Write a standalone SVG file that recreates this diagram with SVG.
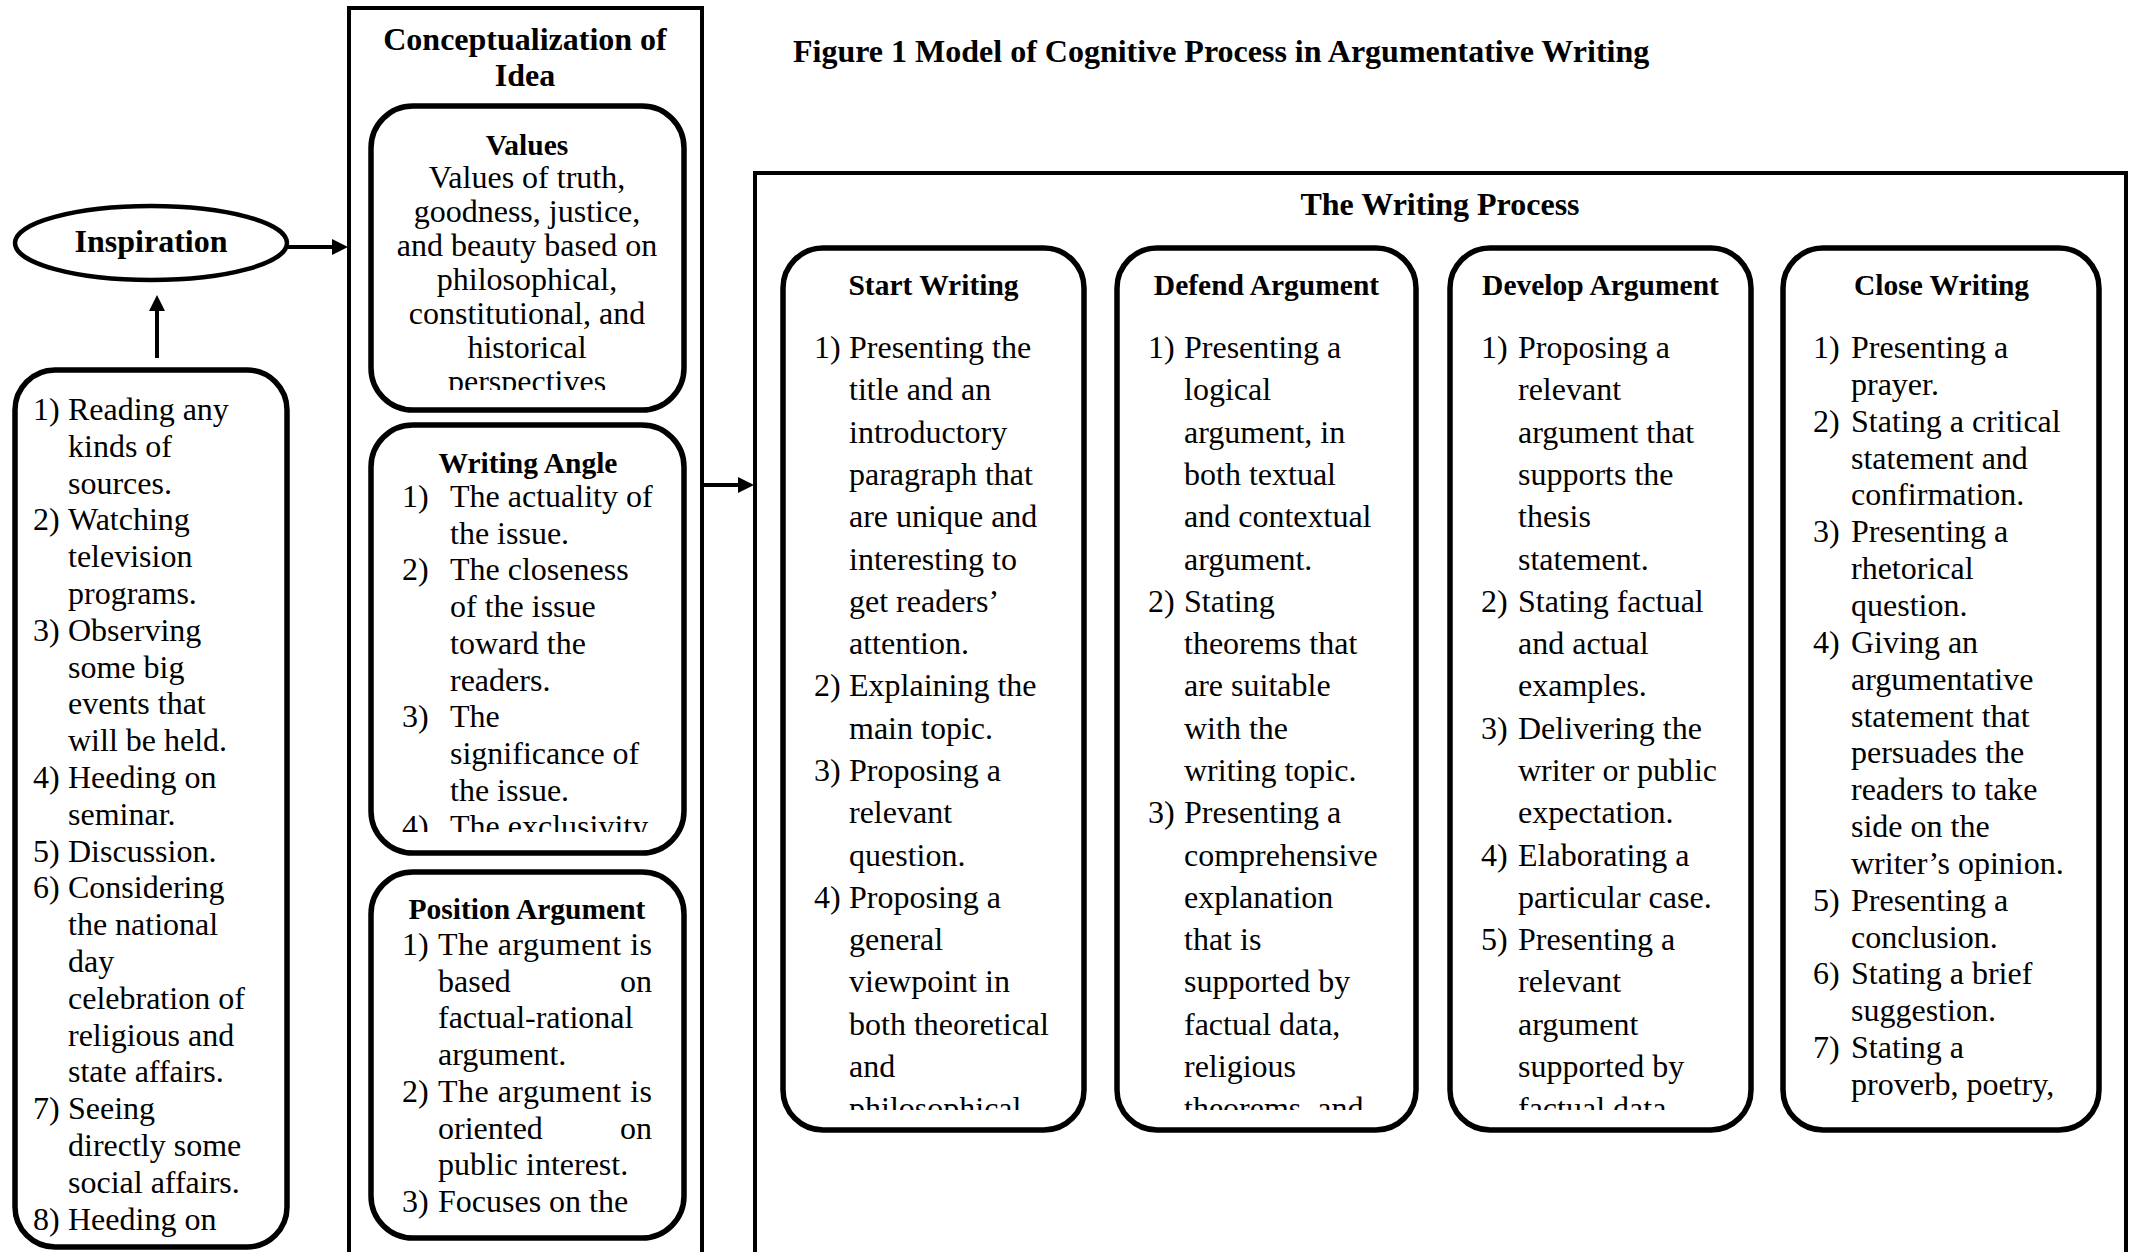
<svg xmlns="http://www.w3.org/2000/svg" width="2133" height="1252" viewBox="0 0 2133 1252">
  <style>
    text { font-family: "Liberation Serif", "Times New Roman", serif; fill: #000; }
    .t { font-size: 32px; }
    .hd { font-size: 29.5px; font-weight: bold; text-anchor: middle; }
    .big { font-size: 32px; font-weight: bold; }
    .mid { text-anchor: middle; }
    .end { text-anchor: end; }
    .box { fill: #fff; stroke: #000; stroke-width: 5.5; }
    .frame { fill: none; stroke: #000; stroke-width: 4; }
    .conn { stroke: #000; stroke-width: 4; fill: none; marker-end: url(#arrow); }
  </style>
  <defs>
    <marker id="arrow" viewBox="0 0 16 16" refX="0" refY="8" markerWidth="16" markerHeight="16" markerUnits="userSpaceOnUse" orient="auto">
      <path d="M0,0 L16,8 L0,16 z" fill="#000"/>
    </marker>
    <clipPath id="clipValues"><rect x="372" y="108" width="310" height="282"/></clipPath>
    <clipPath id="clipAngle"><rect x="372" y="427" width="310" height="405"/></clipPath>
    <clipPath id="clipStart"><rect x="785" y="250" width="297" height="860"/></clipPath>
    <clipPath id="clipDefend"><rect x="1119" y="250" width="295" height="860"/></clipPath>
    <clipPath id="clipDevelop"><rect x="1452" y="250" width="297" height="860"/></clipPath>
  </defs>

  <rect width="2133" height="1252" fill="#fff"/>

  <!-- Title -->
  <text id="title" class="big" x="793" y="62">Figure 1 Model of Cognitive Process in Argumentative Writing</text>

  <!-- Connectors -->
  <g id="connectors">
    <line class="conn" x1="157" y1="358" x2="157" y2="311"/>
    <line class="conn" x1="288" y1="247" x2="332" y2="247"/>
    <line class="conn" x1="702" y1="485" x2="738" y2="485"/>
  </g>

  <!-- Inspiration -->
  <g id="inspiration">
    <ellipse cx="151" cy="243" rx="136" ry="37" fill="#fff" stroke="#000" stroke-width="4.5"/>
    <text class="big mid" x="151" y="252">Inspiration</text>
  </g>

  <!-- Sources of inspiration -->
  <g id="sources">
    <rect class="box" x="15" y="370" width="272" height="877" rx="40" ry="40"/>
    <text class="t" x="33" y="420">1)</text>
    <text class="t" x="33" y="530.4">2)</text>
    <text class="t" x="33" y="640.8">3)</text>
    <text class="t" x="33" y="788">4)</text>
    <text class="t" x="33" y="861.6">5)</text>
    <text class="t" x="33" y="898.4">6)</text>
    <text class="t" x="33" y="1119.2">7)</text>
    <text class="t" x="33" y="1229.6">8)</text>
    <text class="t" x="68" y="420"><tspan x="68">Reading any</tspan><tspan x="68" dy="36.8">kinds of</tspan><tspan x="68" dy="36.8">sources.</tspan><tspan x="68" dy="36.8">Watching</tspan><tspan x="68" dy="36.8">television</tspan><tspan x="68" dy="36.8">programs.</tspan><tspan x="68" dy="36.8">Observing</tspan><tspan x="68" dy="36.8">some big</tspan><tspan x="68" dy="36.8">events that</tspan><tspan x="68" dy="36.8">will be held.</tspan><tspan x="68" dy="36.8">Heeding on</tspan><tspan x="68" dy="36.8">seminar.</tspan><tspan x="68" dy="36.8">Discussion.</tspan><tspan x="68" dy="36.8">Considering</tspan><tspan x="68" dy="36.8">the national</tspan><tspan x="68" dy="36.8">day</tspan><tspan x="68" dy="36.8">celebration of</tspan><tspan x="68" dy="36.8">religious and</tspan><tspan x="68" dy="36.8">state affairs.</tspan><tspan x="68" dy="36.8">Seeing</tspan><tspan x="68" dy="36.8">directly some</tspan><tspan x="68" dy="36.8">social affairs.</tspan><tspan x="68" dy="36.8">Heeding on</tspan></text>
  </g>

  <!-- Conceptualization of Idea -->
  <g id="conceptualization">
    <rect class="frame" x="349" y="8" width="353" height="1250"/>
    <text class="big mid" x="525" y="50">Conceptualization of</text>
    <text class="big mid" x="525" y="86">Idea</text>
  </g>

  <g id="values">
    <rect class="box" x="371" y="106" width="313" height="304" rx="42" ry="42"/>
    <text class="hd" x="527" y="155">Values</text>
    <g clip-path="url(#clipValues)">
      <text class="t mid" x="527" y="188"><tspan x="527">Values of truth,</tspan><tspan x="527" dy="34">goodness, justice,</tspan><tspan x="527" dy="34">and beauty based on</tspan><tspan x="527" dy="34">philosophical,</tspan><tspan x="527" dy="34">constitutional, and</tspan><tspan x="527" dy="34">historical</tspan><tspan x="527" dy="34">perspectives</tspan></text>
    </g>
  </g>

  <g id="writing-angle">
    <rect class="box" x="371" y="425" width="313" height="428" rx="42" ry="42"/>
    <text class="hd" x="528" y="473">Writing Angle</text>
    <g clip-path="url(#clipAngle)">
      <text class="t" x="402" y="507">1)</text>
      <text class="t" x="402" y="580.4">2)</text>
      <text class="t" x="402" y="727.2">3)</text>
      <text class="t" x="402" y="837.3">4)</text>
      <text class="t" x="450" y="507"><tspan x="450">The actuality of</tspan><tspan x="450" dy="36.7">the issue.</tspan><tspan x="450" dy="36.7">The closeness</tspan><tspan x="450" dy="36.7">of the issue</tspan><tspan x="450" dy="36.7">toward the</tspan><tspan x="450" dy="36.7">readers.</tspan><tspan x="450" dy="36.7">The</tspan><tspan x="450" dy="36.7">significance of</tspan><tspan x="450" dy="36.7">the issue.</tspan><tspan x="450" dy="36.7">The exclusivity</tspan></text>
    </g>
  </g>

  <g id="position-argument">
    <rect class="box" x="371" y="872" width="313" height="366" rx="42" ry="42"/>
    <text class="hd" x="527" y="919">Position Argument</text>
    <text class="t" x="402" y="955">1)</text>
    <text class="t" x="402" y="1101.8">2)</text>
    <text class="t" x="402" y="1211.9">3)</text>
    <text class="t" x="438" y="955" textLength="214" lengthAdjust="spacing">The argument is</text>
    <text class="t" x="438" y="991.7">based</text><text class="t end" x="652" y="991.7">on</text>
    <text class="t" x="438" y="1028.4">factual-rational</text>
    <text class="t" x="438" y="1065.1">argument.</text>
    <text class="t" x="438" y="1101.8" textLength="214" lengthAdjust="spacing">The argument is</text>
    <text class="t" x="438" y="1138.5">oriented</text><text class="t end" x="652" y="1138.5">on</text>
    <text class="t" x="438" y="1175.2">public interest.</text>
    <text class="t" x="438" y="1211.9">Focuses on the</text>
  </g>

  <!-- The Writing Process -->
  <g id="writing-process">
    <rect class="frame" x="755" y="173" width="1371" height="1085"/>
    <text class="big mid" x="1440" y="215">The Writing Process</text>
  </g>

  <g id="start-writing">
    <rect class="box" x="783" y="248" width="301" height="882" rx="40" ry="40"/>
    <text class="hd" x="933.5" y="295">Start Writing</text>
    <g clip-path="url(#clipStart)">
      <text class="t" x="814" y="358">1)</text>
      <text class="t" x="814" y="696.4">2)</text>
      <text class="t" x="814" y="781">3)</text>
      <text class="t" x="814" y="907.9">4)</text>
      <text class="t" x="849" y="358"><tspan x="849">Presenting the</tspan><tspan x="849" dy="42.3">title and an</tspan><tspan x="849" dy="42.3">introductory</tspan><tspan x="849" dy="42.3">paragraph that</tspan><tspan x="849" dy="42.3">are unique and</tspan><tspan x="849" dy="42.3">interesting to</tspan><tspan x="849" dy="42.3">get readers’</tspan><tspan x="849" dy="42.3">attention.</tspan><tspan x="849" dy="42.3">Explaining the</tspan><tspan x="849" dy="42.3">main topic.</tspan><tspan x="849" dy="42.3">Proposing a</tspan><tspan x="849" dy="42.3">relevant</tspan><tspan x="849" dy="42.3">question.</tspan><tspan x="849" dy="42.3">Proposing a</tspan><tspan x="849" dy="42.3">general</tspan><tspan x="849" dy="42.3">viewpoint in</tspan><tspan x="849" dy="42.3">both theoretical</tspan><tspan x="849" dy="42.3">and</tspan><tspan x="849" dy="42.3">philosophical</tspan></text>
    </g>
  </g>

  <g id="defend-argument">
    <rect class="box" x="1117" y="248" width="299" height="882" rx="40" ry="40"/>
    <text class="hd" x="1266.5" y="295">Defend Argument</text>
    <g clip-path="url(#clipDefend)">
      <text class="t" x="1148" y="358">1)</text>
      <text class="t" x="1148" y="611.8">2)</text>
      <text class="t" x="1148" y="823.3">3)</text>
      <text class="t" x="1184" y="358"><tspan x="1184">Presenting a</tspan><tspan x="1184" dy="42.3">logical</tspan><tspan x="1184" dy="42.3">argument, in</tspan><tspan x="1184" dy="42.3">both textual</tspan><tspan x="1184" dy="42.3">and contextual</tspan><tspan x="1184" dy="42.3">argument.</tspan><tspan x="1184" dy="42.3">Stating</tspan><tspan x="1184" dy="42.3">theorems that</tspan><tspan x="1184" dy="42.3">are suitable</tspan><tspan x="1184" dy="42.3">with the</tspan><tspan x="1184" dy="42.3">writing topic.</tspan><tspan x="1184" dy="42.3">Presenting a</tspan><tspan x="1184" dy="42.3">comprehensive</tspan><tspan x="1184" dy="42.3">explanation</tspan><tspan x="1184" dy="42.3">that is</tspan><tspan x="1184" dy="42.3">supported by</tspan><tspan x="1184" dy="42.3">factual data,</tspan><tspan x="1184" dy="42.3">religious</tspan><tspan x="1184" dy="42.3">theorems, and</tspan></text>
    </g>
  </g>

  <g id="develop-argument">
    <rect class="box" x="1450" y="248" width="301" height="882" rx="40" ry="40"/>
    <text class="hd" x="1600.5" y="295">Develop Argument</text>
    <g clip-path="url(#clipDevelop)">
      <text class="t" x="1481" y="358">1)</text>
      <text class="t" x="1481" y="611.8">2)</text>
      <text class="t" x="1481" y="738.7">3)</text>
      <text class="t" x="1481" y="865.6">4)</text>
      <text class="t" x="1481" y="950.2">5)</text>
      <text class="t" x="1518" y="358"><tspan x="1518">Proposing a</tspan><tspan x="1518" dy="42.3">relevant</tspan><tspan x="1518" dy="42.3">argument that</tspan><tspan x="1518" dy="42.3">supports the</tspan><tspan x="1518" dy="42.3">thesis</tspan><tspan x="1518" dy="42.3">statement.</tspan><tspan x="1518" dy="42.3">Stating factual</tspan><tspan x="1518" dy="42.3">and actual</tspan><tspan x="1518" dy="42.3">examples.</tspan><tspan x="1518" dy="42.3">Delivering the</tspan><tspan x="1518" dy="42.3">writer or public</tspan><tspan x="1518" dy="42.3">expectation.</tspan><tspan x="1518" dy="42.3">Elaborating a</tspan><tspan x="1518" dy="42.3">particular case.</tspan><tspan x="1518" dy="42.3">Presenting a</tspan><tspan x="1518" dy="42.3">relevant</tspan><tspan x="1518" dy="42.3">argument</tspan><tspan x="1518" dy="42.3">supported by</tspan><tspan x="1518" dy="42.3">factual data</tspan></text>
    </g>
  </g>

  <g id="close-writing">
    <rect class="box" x="1783" y="248" width="316" height="882" rx="40" ry="40"/>
    <text class="hd" x="1941.5" y="295">Close Writing</text>
    <text class="t" x="1813" y="358">1)</text>
    <text class="t" x="1813" y="431.7">2)</text>
    <text class="t" x="1813" y="542.25">3)</text>
    <text class="t" x="1813" y="652.8">4)</text>
    <text class="t" x="1813" y="910.75">5)</text>
    <text class="t" x="1813" y="984.45">6)</text>
    <text class="t" x="1813" y="1058.15">7)</text>
    <text class="t" x="1851" y="358"><tspan x="1851">Presenting a</tspan><tspan x="1851" dy="36.85">prayer.</tspan><tspan x="1851" dy="36.85">Stating a critical</tspan><tspan x="1851" dy="36.85">statement and</tspan><tspan x="1851" dy="36.85">confirmation.</tspan><tspan x="1851" dy="36.85">Presenting a</tspan><tspan x="1851" dy="36.85">rhetorical</tspan><tspan x="1851" dy="36.85">question.</tspan><tspan x="1851" dy="36.85">Giving an</tspan><tspan x="1851" dy="36.85">argumentative</tspan><tspan x="1851" dy="36.85">statement that</tspan><tspan x="1851" dy="36.85">persuades the</tspan><tspan x="1851" dy="36.85">readers to take</tspan><tspan x="1851" dy="36.85">side on the</tspan><tspan x="1851" dy="36.85">writer’s opinion.</tspan><tspan x="1851" dy="36.85">Presenting a</tspan><tspan x="1851" dy="36.85">conclusion.</tspan><tspan x="1851" dy="36.85">Stating a brief</tspan><tspan x="1851" dy="36.85">suggestion.</tspan><tspan x="1851" dy="36.85">Stating a</tspan><tspan x="1851" dy="36.85">proverb, poetry,</tspan></text>
  </g>
</svg>
